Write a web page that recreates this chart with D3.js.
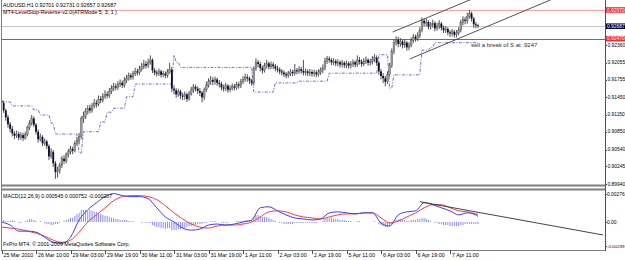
<!DOCTYPE html>
<html>
<head>
<meta charset="utf-8">
<script src="https://cdnjs.cloudflare.com/ajax/libs/d3/7.8.5/d3.min.js"></script>
<style>
body{margin:0;background:#fff;}
svg{display:block;font-family:"Liberation Sans",Arial,sans-serif;}
</style>
</head>
<body>
<div id="chart"></div>
<script>
// AUDUSD H1 bars, open of each bar = close of the bar before
var firstOpen=0.9140;
var closes=[0.9135,0.9122,0.9110,0.9098,0.9090,0.9082,0.9078,0.9081,0.9075,0.9079,
0.9074,0.9080,0.9092,0.9100,0.9108,0.9097,0.9085,0.9072,0.9076,0.9065,
0.9068,0.9060,0.9042,0.9050,0.9030,0.9015,0.9018,0.9027,0.9038,0.9034,
0.9045,0.9050,0.9055,0.9052,0.9065,0.9070,0.9077,0.9108,0.9112,0.9120,
0.9126,0.9122,0.9130,0.9135,0.9133,0.9142,0.9140,0.9146,0.9150,0.9148,
0.9155,0.9160,0.9164,0.9162,0.9168,0.9170,0.9166,0.9175,0.9178,0.9183,
0.9180,0.9186,0.9190,0.9188,0.9194,0.9198,0.9203,0.9200,0.9206,0.9210,
0.9192,0.9188,0.9186,0.9190,0.9184,0.9186,0.9183,0.9189,0.9193,0.9160,
0.9157,0.9150,0.9155,0.9148,0.9146,0.9150,0.9142,0.9152,0.9158,0.9163,
0.9160,0.9156,0.9153,0.9145,0.9158,0.9166,0.9172,0.9175,0.9172,0.9176,
0.9170,0.9168,0.9162,0.9160,0.9165,0.9158,0.9161,0.9164,0.9162,0.9167,
0.9165,0.9172,0.9176,0.9180,0.9178,0.9174,0.9170,0.9195,0.9206,0.9203,
0.9196,0.9192,0.9200,0.9204,0.9198,0.9202,0.9199,0.9195,0.9193,0.9190,
0.9188,0.9185,0.9183,0.9186,0.9189,0.9187,0.9192,0.9190,0.9194,0.9191,
0.9188,0.9190,0.9187,0.9189,0.9186,0.9188,0.9185,0.9189,0.9192,0.9196,
0.9208,0.9212,0.9210,0.9206,0.9208,0.9204,0.9206,0.9202,0.9205,0.9201,
0.9204,0.9200,0.9203,0.9206,0.9202,0.9210,0.9207,0.9203,0.9208,0.9210,
0.9205,0.9207,0.9211,0.9214,0.9205,0.9190,0.9182,0.9178,0.9172,0.9185,
0.9200,0.9225,0.9240,0.9245,0.9238,0.9242,0.9236,0.9240,0.9232,0.9236,
0.9244,0.9250,0.9247,0.9252,0.9262,0.9278,0.9274,0.9276,0.9268,0.9271,
0.9274,0.9265,0.9269,0.9273,0.9266,0.9262,0.9264,0.9258,0.9256,0.9259,
0.9254,0.9257,0.9262,0.9275,0.9280,0.9278,0.9286,0.9291,0.9282,0.9272,
0.92701,0.92687];
var highs=[0.9146,0.9139,0.9125,0.9114,0.9102,0.9095,0.9086,0.9087,0.9085,0.9084,
0.9083,0.9085,0.9096,0.9105,0.9114,0.9112,0.9100,0.9089,0.9082,0.9079,
0.9073,0.9071,0.9063,0.9056,0.9053,0.9034,0.9024,0.9031,0.9043,0.9044,
0.9049,0.9055,0.9060,0.9059,0.9069,0.9076,0.9083,0.9112,0.9120,0.9126,
0.9131,0.9132,0.9135,0.9142,0.9140,0.9148,0.9147,0.9152,0.9157,0.9155,
0.9161,0.9166,0.9170,0.9169,0.9173,0.9176,0.9174,0.9180,0.9184,0.9188,
0.9187,0.9191,0.9196,0.9195,0.9200,0.9205,0.9210,0.9208,0.9212,0.9218,
0.9213,0.9196,0.9192,0.9195,0.9193,0.9191,0.9190,0.9194,0.9205,0.9198,
0.9166,0.9161,0.9160,0.9158,0.9153,0.9155,0.9153,0.9156,0.9163,0.9168,
0.9167,0.9164,0.9161,0.9156,0.9162,0.9172,0.9178,0.9182,0.9180,0.9181,
0.9179,0.9175,0.9172,0.9167,0.9170,0.9168,0.9166,0.9169,0.9168,0.9172,
0.9171,0.9177,0.9182,0.9186,0.9185,0.9181,0.9177,0.9199,0.9213,0.9210,
0.9207,0.9200,0.9205,0.9210,0.9207,0.9207,0.9206,0.9203,0.9200,0.9197,
0.9194,0.9192,0.9189,0.9191,0.9194,0.9193,0.9203,0.9196,0.9199,0.9198,
0.9210,0.9195,0.9194,0.9194,0.9193,0.9193,0.9192,0.9194,0.9197,0.9202,
0.9214,0.9217,0.9216,0.9213,0.9213,0.9211,0.9211,0.9209,0.9210,0.9208,
0.9209,0.9207,0.9208,0.9211,0.9209,0.9218,0.9215,0.9211,0.9213,0.9216,
0.9213,0.9212,0.9217,0.9220,0.9218,0.9208,0.9194,0.9187,0.9182,0.9190,
0.9205,0.9230,0.9246,0.9251,0.9250,0.9248,0.9246,0.9245,0.9243,0.9241,
0.9249,0.9255,0.9254,0.9258,0.9267,0.9284,0.9282,0.9282,0.9279,0.9276,
0.9280,0.9277,0.9275,0.9279,0.9276,0.9270,0.9269,0.9267,0.9262,0.9264,
0.9262,0.9262,0.9267,0.9280,0.9286,0.9285,0.9292,0.9297,0.9294,0.9285,
0.9276,0.92731];
var lows=[0.9128,0.9118,0.9104,0.9092,0.9084,0.9077,0.9072,0.9074,0.9070,0.9071,
0.9069,0.9071,0.9077,0.9088,0.9096,0.9093,0.9080,0.9066,0.9068,0.9060,
0.9061,0.9055,0.9036,0.9038,0.9024,0.9003,0.9005,0.9012,0.9022,0.9029,
0.9030,0.9040,0.9046,0.9046,0.9049,0.9060,0.9063,0.9073,0.9100,0.9107,
0.9115,0.9117,0.9118,0.9126,0.9127,0.9129,0.9135,0.9136,0.9142,0.9143,
0.9144,0.9151,0.9156,0.9157,0.9158,0.9163,0.9161,0.9162,0.9170,0.9174,
0.9175,0.9176,0.9182,0.9183,0.9184,0.9190,0.9194,0.9195,0.9196,0.9202,
0.9187,0.9183,0.9181,0.9182,0.9179,0.9180,0.9178,0.9179,0.9186,0.9154,
0.9150,0.9144,0.9146,0.9142,0.9140,0.9141,0.9137,0.9139,0.9148,0.9153,
0.9155,0.9151,0.9147,0.9136,0.9140,0.9154,0.9162,0.9167,0.9166,0.9167,
0.9165,0.9162,0.9157,0.9155,0.9156,0.9153,0.9154,0.9157,0.9157,0.9158,
0.9160,0.9161,0.9168,0.9172,0.9172,0.9168,0.9165,0.9166,0.9191,0.9197,
0.9190,0.9186,0.9188,0.9195,0.9193,0.9194,0.9194,0.9190,0.9188,0.9185,
0.9183,0.9180,0.9178,0.9179,0.9182,0.9182,0.9183,0.9185,0.9186,0.9186,
0.9183,0.9183,0.9182,0.9182,0.9181,0.9181,0.9180,0.9181,0.9184,0.9187,
0.9192,0.9203,0.9205,0.9201,0.9201,0.9199,0.9199,0.9197,0.9197,0.9196,
0.9196,0.9195,0.9195,0.9198,0.9197,0.9198,0.9202,0.9198,0.9199,0.9203,
0.9200,0.9200,0.9202,0.9206,0.9200,0.9184,0.9176,0.9170,0.9164,0.9168,
0.9181,0.9196,0.9220,0.9235,0.9232,0.9233,0.9230,0.9231,0.9226,0.9227,
0.9232,0.9240,0.9242,0.9243,0.9248,0.9258,0.9268,0.9269,0.9263,0.9263,
0.9266,0.9260,0.9261,0.9264,0.9261,0.9257,0.9257,0.9253,0.9250,0.9251,
0.9249,0.9249,0.9253,0.9258,0.9270,0.9272,0.9273,0.9282,0.9277,0.9266,
0.9265,0.92657];

// LevelStop-Reverse: bar where each level starts, and the level
var stopStart=[0,5,15,18,23,25,36,38,46,49,52,58,62,80,81,83,117,127,138,152,175,180,182,195,199,201];
var stopLevel=[0.9137,0.9130,0.9123,0.9114,0.9100,0.9081,0.9048,0.9085,0.9102,0.9119,0.9126,0.9146,0.9168,
  0.9219,0.9206,0.9197,0.9154,0.9170,0.9173,0.9187,0.9219,0.9161,0.9184,0.9227,0.9232,0.9240];

// channel drawn by hand: [bar, price]
var channelUpper=[[181.4,0.92586],[222,0.93220]];
var channelLower=[[189.3,0.92116],[260,0.93230]];
var hLines=[0.92970,0.92687,0.92470];

var timeLabels=["25 Mar 2010","26 Mar 10:00","29 Mar 03:00","29 Mar 19:00","30 Mar 11:00","31 Mar 03:00",
  "31 Mar 19:00","1 Apr 11:00","2 Apr 03:00","2 Apr 19:00","5 Apr 11:00","6 Apr 03:00","6 Apr 19:00","7 Apr 11:00"];
var priceTicks=[0.92360,0.92055,0.91755,0.91450,0.91150,0.90850,0.90540,0.90245,0.89940];

// MACD(12,26,9)
var macdBars=[0,4,8,12,16,20,24,28,32,36,40,44,48,52,56,60,64,68,72,76,80,84,88,92,96,100,104,108,112,116,
  120,124,128,132,136,140,144,148,152,156,160,164,168,172,176,180,184,188,192,196,200,204,208,212,216,220,221];
var macdMain=[0.0000,-0.0003,-0.0009,-0.0009,-0.0010,-0.0015,-0.0020,-0.0021,-0.0015,0.0002,0.0012,0.0019,0.0025,0.0028,
  0.0026,0.0025,0.0025,0.0023,0.0014,0.0005,0.0000,-0.0006,-0.0008,-0.0007,-0.0003,-0.0002,-0.0003,-0.0002,0.0000,0.0002,
  0.0014,0.0015,0.0011,0.0007,0.0004,0.0003,0.0002,0.0003,0.0009,0.0010,0.0009,0.0008,0.0009,0.0009,-0.0001,-0.0004,
  0.0007,0.0010,0.0011,0.0019,0.0017,0.0014,0.0011,0.0007,0.0009,0.0007,0.000545];
var macdSignal=[-0.0005,-0.0006,-0.0007,-0.0009,-0.0011,-0.0014,-0.0018,-0.0020,-0.0018,-0.0010,0.0000,0.0007,0.0014,0.0021,
  0.0025,0.0026,0.0026,0.0025,0.0022,0.0016,0.0009,0.0003,-0.0002,-0.0005,-0.0006,-0.0004,-0.0003,-0.0003,-0.0002,0.0000,
  0.0005,0.0010,0.0011,0.0010,0.0007,0.0005,0.0004,0.0003,0.0005,0.0007,0.0008,0.0008,0.0009,0.0009,0.0004,-0.0001,
  0.0001,0.0005,0.0009,0.0014,0.0017,0.0017,0.0014,0.0011,0.0010,0.0008,0.000752];
var macdHist=[0.0002,0.0002,0.0001,0.0001,0.0001,0.0002,0.0001,0.0000,-0.0001,
  -0.0001,0.0000,0.0001,0.0002,0.0003,0.0003,0.0002,0.0001,0.0000,0.0001,0.0000,-0.0001,
  -0.0002,-0.0002,-0.0003,-0.0003,-0.0002,-0.0002,-0.0001,0.0000,0.0001,
  0.0002,0.0003,0.0004,0.0004,0.0006,
  0.0008,0.0009,0.0012,0.0012,0.0012,0.0011,0.0012,0.0011,
  0.0010,0.0010,0.0009,0.0008,0.0007,0.0006,0.0006,0.0005,0.0004,
  0.0004,0.0003,0.0003,0.0002,0.0002,0.0002,0.0002,0.0001,0.0001,0.0001,
  0.0000,0.0000,0.0000,-0.0001,0.0000,-0.0001,
  -0.0001,-0.0001,-0.0003,-0.0004,-0.0005,-0.0005,-0.0006,-0.0006,-0.0007,-0.0006,-0.0006,-0.0008,-0.0008,-0.0008,-0.0007,-0.0007,-0.0006,-0.0006,
  -0.0005,-0.0004,-0.0004,-0.0003,-0.0003,-0.0002,-0.0002,-0.0002,-0.0001,-0.0001,0.0000,
  0.0001,0.0001,0.0001,0.0000,0.0000,-0.0001,-0.0001,-0.0001,-0.0001,0.0000,0.0000,0.0000,0.0001,0.0001,0.0001,0.0001,0.0002,0.0002,0.0002,0.0002,
  0.0005,0.0007,0.0007,0.0006,0.0005,0.0005,0.0005,0.0004,0.0003,0.0002,0.0001,
  0.0000,-0.0001,-0.0001,-0.0002,-0.0002,-0.0002,-0.0002,-0.0002,-0.0001,-0.0001,-0.0001,-0.0001,-0.0001,-0.0001,-0.0001,-0.0001,-0.0001,-0.0001,-0.0001,0.0000,0.0000,
  0.0001,0.0003,0.0004,0.0004,0.0004,0.0003,0.0003,0.0003,0.0002,0.0002,0.0002,0.0001,
  0.0001,0.0001,0.0000,0.0000,0.0001,0.0001,0.0000,0.0000,0.0000,0.0000,0.0000,0.0000,0.0001,0.0000,
  -0.0002,-0.0003,-0.0004,-0.0005,-0.0005,-0.0004,-0.0002,0.0000,0.0002,0.0003,
  0.0003,0.0002,0.0002,0.0001,0.0001,0.0002,0.0002,0.0002,0.0003,0.0003,0.0004,0.0004,0.0003,0.0002,0.0001,0.0000,
  -0.0001,-0.0001,-0.0002,-0.0002,-0.0003,-0.0003,-0.0003,-0.0004,-0.0004,-0.0004,-0.0004,-0.0004,-0.0003,-0.0003,-0.0002,-0.0002,-0.0002,-0.0002,-0.0002,-0.0002,-0.000207];
var macdTrend=[[194,0.0020],[279,-0.00128]];
var macdTickVals=[0.00276,0,-0.00239];
var macdTickText=["0.00276","0.00","-0.00239"];

var W=625,H=260,axisX=605;
var fs=5.3, afs=4.9;

var svg=d3.select("#chart").append("svg").attr("width",W).attr("height",H);

var x=d3.scaleLinear().domain([0,208]).range([1.5,450]);
var y=d3.scaleLinear().domain([0.9236,0.8994]).range([45,184]);
var ym=d3.scaleLinear().domain([0.00276,0]).range([194,222]);

var bars=closes.map(function(c,i){
  return {i:i,o:i==0?firstOpen:closes[i-1],c:c,h:highs[i],l:lows[i]};
});

svg.append("clipPath").attr("id","clipMain").append("rect")
  .attr("x",2).attr("y",0).attr("width",axisX-2).attr("height",184);
svg.append("clipPath").attr("id","clipMacd").append("rect")
  .attr("x",2).attr("y",191).attr("width",axisX-2).attr("height",59);

var main=svg.append("g").attr("clip-path","url(#clipMain)");

// horizontal levels
main.selectAll(".hl").data(hLines).enter().append("line")
  .attr("x1",0).attr("x2",axisX)
  .attr("y1",function(d){return Math.round(y(d))+0.5;})
  .attr("y2",function(d){return Math.round(y(d))+0.5;})
  .style("stroke",function(d,i){return ["#f4a4a4","#c8c8c8","#e83838"][i];})
  .style("stroke-width",1);

// stop-reverse line
var stopVals=bars.map(function(b){
  var k=d3.bisectRight(stopStart,b.i)-1;
  return stopLevel[k];
});
main.append("path")
  .datum(stopVals)
  .attr("d",d3.line().x(function(d,i){return x(i);}).y(function(d){return y(d);}))
  .style("fill","none").style("stroke","#4848c0").style("stroke-width",0.8)
  .style("stroke-dasharray","3,1.5,1,1.5");

// candles
var candle=main.selectAll(".bar").data(bars).enter().append("g");
candle.append("line")
  .attr("x1",function(d){return x(d.i);}).attr("x2",function(d){return x(d.i);})
  .attr("y1",function(d){return y(d.h);}).attr("y2",function(d){return y(d.l);})
  .style("stroke","#505050").style("stroke-width",1);
candle.append("rect")
  .attr("x",function(d){return x(d.i)-0.9;})
  .attr("width",1.8)
  .attr("y",function(d){return y(Math.max(d.o,d.c));})
  .attr("height",function(d){return Math.max(0.8,Math.abs(y(d.o)-y(d.c)));})
  .style("fill",function(d){return d.c>=d.o?"#9a9a9a":"#0a0a3c";})
  .style("stroke",function(d){return d.c>=d.o?"#5a5a5a":"none";})
  .style("stroke-width",0.4);

// channel
var segLine=d3.line().x(function(d){return x(d[0]);}).y(function(d){return y(d[1]);});
[channelUpper,channelLower].forEach(function(c){
  main.append("path").attr("d",segLine(c))
    .style("stroke","#404040").style("stroke-width",0.9).style("fill","none");
});

svg.append("text").attr("x",471).attr("y",47)
  .style("font-size","6px").style("fill","#303030")
  .text("sell a break of S at .9247");

// header texts
svg.append("text").attr("x",3).attr("y",7).style("font-size",fs+"px")
  .text("AUDUSD,H1  0.92701 0.92731 0.92657 0.92687");
svg.append("text").attr("x",3).attr("y",14).style("font-size",fs+"px")
  .text("MT4-LevelStop-Reverse-v2.0(ATRMode 5, 3, 1 )");

// MACD panel
var macd=svg.append("g").attr("clip-path","url(#clipMacd)");
macd.selectAll(".hist").data(macdHist).enter().append("line")
  .attr("x1",function(d,i){return x(i);}).attr("x2",function(d,i){return x(i);})
  .attr("y1",ym(0)).attr("y2",function(d){return ym(d);})
  .style("stroke","#8080f0").style("stroke-width",0.9);

var mLine=d3.line().curve(d3.curveMonotoneX)
  .x(function(d,i){return x(macdBars[i]);}).y(function(d){return ym(d);});
macd.append("path").attr("d",mLine(macdSignal))
  .style("fill","none").style("stroke","#ff3a3a").style("stroke-width",1);
macd.append("path").attr("d",mLine(macdMain))
  .style("fill","none").style("stroke","#3c3cff").style("stroke-width",1);
macd.append("path")
  .attr("d",d3.line().x(function(d){return x(d[0]);}).y(function(d){return ym(d[1]);})(macdTrend))
  .style("fill","none").style("stroke","#303030").style("stroke-width",0.9);

svg.append("text").attr("x",3).attr("y",198).style("font-size",fs+"px")
  .text("MACD(12,26,9) 0.000545 0.000752 -0.000207");
svg.append("text").attr("x",3).attr("y",246).style("font-size",fs+"px")
  .text("FxPro MT4, \u00a9 2001-2009 MetaQuotes Software Corp.");

// frame
svg.append("line").attr("x1",1.5).attr("x2",1.5).attr("y1",0).attr("y2",250)
  .style("stroke","#808080");
svg.append("line").attr("x1",axisX+0.5).attr("x2",axisX+0.5).attr("y1",0).attr("y2",251)
  .style("stroke","#505050");
svg.append("line").attr("x1",1).attr("x2",axisX).attr("y1",250.5).attr("y2",250.5)
  .style("stroke","#808080");
svg.append("rect").attr("x",1).attr("y",184.5).attr("width",axisX-1).attr("height",2).style("fill","#808080");
svg.append("rect").attr("x",1).attr("y",188.5).attr("width",axisX-1).attr("height",2).style("fill","#808080");

// price axis
var pa=svg.append("g");
pa.selectAll(".pt").data(priceTicks).enter().append("line")
  .attr("x1",axisX).attr("x2",axisX+2)
  .attr("y1",function(d){return Math.round(y(d))+0.5;}).attr("y2",function(d){return Math.round(y(d))+0.5;})
  .style("stroke","#505050");
pa.selectAll(".ptl").data(priceTicks).enter().append("text")
  .attr("x",axisX+2.5).attr("y",function(d){return y(d);}).attr("dy","0.35em")
  .style("font-size",afs+"px").text(function(d){return d.toFixed(5);});

// level boxes on the price axis
var boxColors=["#f03030","#000040","#f03030"];
hLines.forEach(function(v,i){
  pa.append("rect").attr("x",axisX+1).attr("y",y(v)-2.8).attr("width",19).attr("height",5.6)
    .style("fill",boxColors[i]);
  pa.append("text").attr("x",axisX+2).attr("y",y(v)).attr("dy","0.35em")
    .style("font-size",afs+"px").style("fill","#fff").text(v.toFixed(5));
});

pa.selectAll(".mt").data(macdTickVals).enter().append("line")
  .attr("x1",axisX).attr("x2",axisX+2)
  .attr("y1",function(d){return Math.round(ym(d))+0.5;}).attr("y2",function(d){return Math.round(ym(d))+0.5;})
  .style("stroke","#505050");
pa.selectAll(".mtl").data(macdTickVals).enter().append("text")
  .attr("x",axisX+2).attr("y",function(d){return ym(d);}).attr("dy","0.35em")
  .style("font-size",function(d,i){return (macdTickText[i].length>7?4.4:afs)+"px";})
  .text(function(d,i){return macdTickText[i];});

// time axis
var ta=svg.append("g");
ta.selectAll(".tt").data(timeLabels).enter().append("line")
  .attr("x1",function(d,i){return Math.round(x(i*16))+0.5;})
  .attr("x2",function(d,i){return Math.round(x(i*16))+0.5;})
  .attr("y1",250).attr("y2",254).style("stroke","#505050");
ta.selectAll(".ttl").data(timeLabels).enter().append("text")
  .attr("x",function(d,i){return x(i*16)+2;}).attr("y",257)
  .style("font-size",fs+"px").text(function(d){return d;});
</script>
</body>
</html>
